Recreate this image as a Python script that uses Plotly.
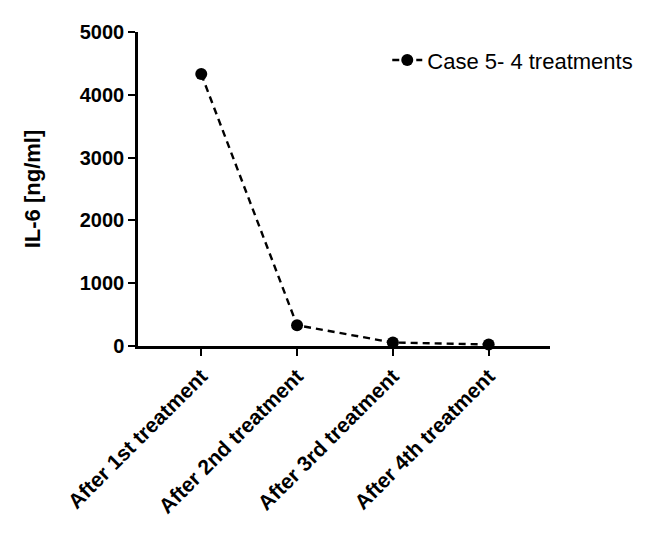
import plotly.graph_objects as go

# data
categories = ["After 1st treatment", "After 2nd treatment",
              "After 3rd treatment", "After 4th treatment"]
il6_values = [4330, 330, 55, 25]
series_name = "Case 5- 4 treatments"

fig = go.Figure()
fig.add_trace(go.Scatter(
    x=list(range(len(categories))),
    y=il6_values,
    mode="lines+markers",
    name=series_name,
    line=dict(color="black", width=2.4, dash="7px,5px"),
    marker=dict(color="black", size=12),
    cliponaxis=False,
))

font_name = "Liberation Sans, Arial"

fig.update_layout(
    width=657, height=539,
    paper_bgcolor="white", plot_bgcolor="white",
    margin=dict(l=130, r=115, t=24, b=201),
    showlegend=True,
    legend=dict(x=0.605, y=0.91, xanchor="left", yanchor="middle",
                font=dict(family=font_name, size=22, color="black"),
                itemwidth=30,
                bgcolor="rgba(0,0,0,0)"),
    xaxis=dict(
        range=[-0.66, 3.64],
        tickmode="array",
        tickvals=list(range(len(categories))),
        ticktext=["<b>%s</b>" % c for c in categories],
        tickangle=-45,
        tickfont=dict(family=font_name, size=21, color="black"),
        showline=True, linecolor="black", linewidth=2.5,
        ticks="outside", ticklen=7, tickwidth=2, tickcolor="black",
        showgrid=False, zeroline=False,
    ),
    yaxis=dict(
        range=[0, 5000],
        dtick=1000,
        title=dict(text="<b>IL-6 [ng/ml]</b>",
                   font=dict(family=font_name, size=22, color="black"),
                   standoff=34),
        tickfont=dict(family=font_name, size=20, color="black"),
        tickprefix="<b>", ticksuffix="</b>",
        showline=True, linecolor="black", linewidth=2.5,
        ticks="outside", ticklen=7, tickwidth=2, tickcolor="black",
        showgrid=False, zeroline=False,
    ),
)

fig.write_html("out.html")
